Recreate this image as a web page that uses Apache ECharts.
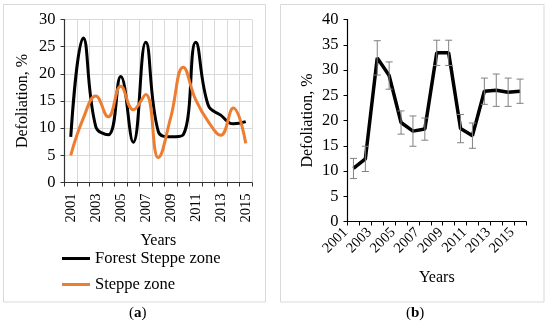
<!DOCTYPE html>
<html>
<head>
<meta charset="utf-8">
<script src="https://cdn.jsdelivr.net/npm/echarts@6/dist/echarts.min.js"></script>
<style>
html,body{margin:0;padding:0;background:#fff;}
#chart{width:550px;height:324px;}
</style>
</head>
<body>
<div id="chart"></div>
<script>
const years = ['2001','2002','2003','2004','2005','2006','2007','2008','2009','2010','2011','2012','2013','2014','2015'];
const forestSteppe = [8.4, 26.6, 10.3, 8.8, 19.5, 7.4, 25.8, 9.4, 8.4, 8.8, 25.8, 14.2, 12.4, 10.8, 11.2];
const steppe = [5.0, 11.8, 15.9, 12.1, 17.7, 13.4, 16.2, 4.6, 12.0, 21.2, 15.2, 11.2, 8.7, 13.7, 7.2];
const defoliationB = [10.5, 12.4, 32.4, 28.9, 19.6, 17.9, 18.3, 33.4, 33.4, 18.4, 17.0, 25.8, 26.0, 25.6, 25.8];
const errB = [2.0, 2.5, 3.4, 2.7, 2.3, 3.0, 2.2, 2.5, 2.5, 2.8, 2.5, 2.6, 3.2, 2.8, 2.4];
const yTicksA = [0, 5, 10, 15, 20, 25, 30];
const yTicksB = [0, 5, 10, 15, 20, 25, 30, 35, 40];

const FONT = '"Liberation Serif", "Times New Roman", serif';
const chart = echarts.init(document.getElementById('chart'));

const errData = years.map((y, i) => [i, defoliationB[i] - errB[i], defoliationB[i] + errB[i]]);

const option = {
  animation: false,
  backgroundColor: '#fff',
  textStyle: {fontFamily: FONT, color: '#000'},
  graphic: [
    {type: 'rect', shape: {x: 3.5, y: 4.5, width: 262, height: 297.5}, style: {fill: 'none', stroke: '#d9d9d9', lineWidth: 1}, z: -10},
    {type: 'rect', shape: {x: 280.5, y: 4.5, width: 263.5, height: 297.5}, style: {fill: 'none', stroke: '#d9d9d9', lineWidth: 1}, z: -10},
    {type: 'text', left: 129, top: 306, style: {text: '({a|a})', fontFamily: FONT, fontSize: 15, fill: '#000', rich: {a: {fontWeight: 'bold', fontFamily: FONT, fontSize: 15}}}},
    {type: 'text', left: 406, top: 306, style: {text: '({a|b})', fontFamily: FONT, fontSize: 15, fill: '#000', rich: {a: {fontWeight: 'bold', fontFamily: FONT, fontSize: 15}}}}
  ],
  legend: {
    data: ['Forest Steppe zone', 'Steppe zone'],
    orient: 'vertical',
    left: 57,
    top: 245,
    itemWidth: 28,
    itemHeight: 3,
    itemGap: 9,
    icon: 'rect',
    textStyle: {fontFamily: FONT, fontSize: 16.5, color: '#000'}
  },
  grid: [
    {left: 64.5, right: 298, top: 19.5, bottom: 141.5},
    {left: 347.5, right: 24, top: 19.5, bottom: 102.5}
  ],
  xAxis: [
    {
      gridIndex: 0, type: 'category', data: years, boundaryGap: true,
      axisLine: {lineStyle: {color: '#333', width: 1.2}},
      axisTick: {show: true, interval: 0, length: 4, lineStyle: {color: '#333'}},
      axisLabel: {interval: 1, rotate: 90, fontFamily: FONT, fontSize: 14.5, color: '#000', margin: 11},
      splitLine: {show: true, interval: 0, lineStyle: {color: '#d9d9d9', width: 1}},
      name: 'Years', nameLocation: 'middle', nameGap: 50,
      nameTextStyle: {fontFamily: FONT, fontSize: 16, color: '#000'}
    },
    {
      gridIndex: 1, type: 'category', data: years, boundaryGap: true,
      axisLine: {lineStyle: {color: '#000', width: 1.2}},
      axisTick: {show: true, interval: 0, length: 4, lineStyle: {color: '#000'}},
      axisLabel: {interval: 1, rotate: 45, fontFamily: FONT, fontSize: 14.5, color: '#000', margin: 1, padding: [0, 11, 0, 0]},
      splitLine: {show: false},
      name: 'Years', nameLocation: 'middle', nameGap: 48,
      nameTextStyle: {fontFamily: FONT, fontSize: 16, color: '#000'}
    }
  ],
  yAxis: [
    {
      gridIndex: 0, type: 'value', min: yTicksA[0], max: yTicksA[yTicksA.length - 1], interval: 5,
      axisLine: {show: true, lineStyle: {color: '#333', width: 1.2}},
      axisTick: {show: true, length: 4, lineStyle: {color: '#333'}},
      axisLabel: {fontFamily: FONT, fontSize: 16.5, color: '#000', margin: 9},
      splitLine: {show: true, lineStyle: {color: '#d9d9d9', width: 1}},
      name: 'Defoliation, %', nameLocation: 'middle', nameRotate: 90, nameGap: 34,
      nameTextStyle: {fontFamily: FONT, fontSize: 16, color: '#000'}
    },
    {
      gridIndex: 1, type: 'value', min: yTicksB[0], max: yTicksB[yTicksB.length - 1], interval: 5,
      axisLine: {show: true, lineStyle: {color: '#000', width: 1.2}},
      axisTick: {show: true, length: 4, lineStyle: {color: '#000'}},
      axisLabel: {fontFamily: FONT, fontSize: 16.5, color: '#000', margin: 9},
      splitLine: {show: false},
      name: 'Defoliation, %', nameLocation: 'middle', nameRotate: 90, nameGap: 32,
      nameTextStyle: {fontFamily: FONT, fontSize: 16, color: '#000'}
    }
  ],
  series: [
    {
      name: 'Forest Steppe zone', type: 'line', xAxisIndex: 0, yAxisIndex: 0,
      data: forestSteppe, smooth: 0.45, showSymbol: false, symbol: 'none',
      lineStyle: {color: '#000', width: 3}, itemStyle: {color: '#000'}, z: 3
    },
    {
      name: 'Steppe zone', type: 'line', xAxisIndex: 0, yAxisIndex: 0,
      data: steppe, smooth: 0.45, showSymbol: false, symbol: 'none',
      lineStyle: {color: '#ed7d31', width: 3}, itemStyle: {color: '#ed7d31'}, z: 4
    },
    {
      name: 'Defoliation', type: 'line', xAxisIndex: 1, yAxisIndex: 1,
      data: defoliationB, showSymbol: false, symbol: 'none',
      lineStyle: {color: '#000', width: 3.5}, z: 3
    },
    {
      name: 'Error', type: 'custom', xAxisIndex: 1, yAxisIndex: 1,
      data: errData, z: 4,
      renderItem: function (params, api) {
        const x = api.value(0);
        const lo = api.coord([x, api.value(1)]);
        const hi = api.coord([x, api.value(2)]);
        const hw = 3.5;
        const st = {stroke: '#808080', lineWidth: 1};
        return {
          type: 'group',
          children: [
            {type: 'line', shape: {x1: lo[0], y1: lo[1], x2: hi[0], y2: hi[1]}, style: st},
            {type: 'line', shape: {x1: lo[0] - hw, y1: lo[1], x2: lo[0] + hw, y2: lo[1]}, style: st},
            {type: 'line', shape: {x1: hi[0] - hw, y1: hi[1], x2: hi[0] + hw, y2: hi[1]}, style: st}
          ]
        };
      }
    }
  ]
};
chart.setOption(option);
</script>
</body>
</html>
